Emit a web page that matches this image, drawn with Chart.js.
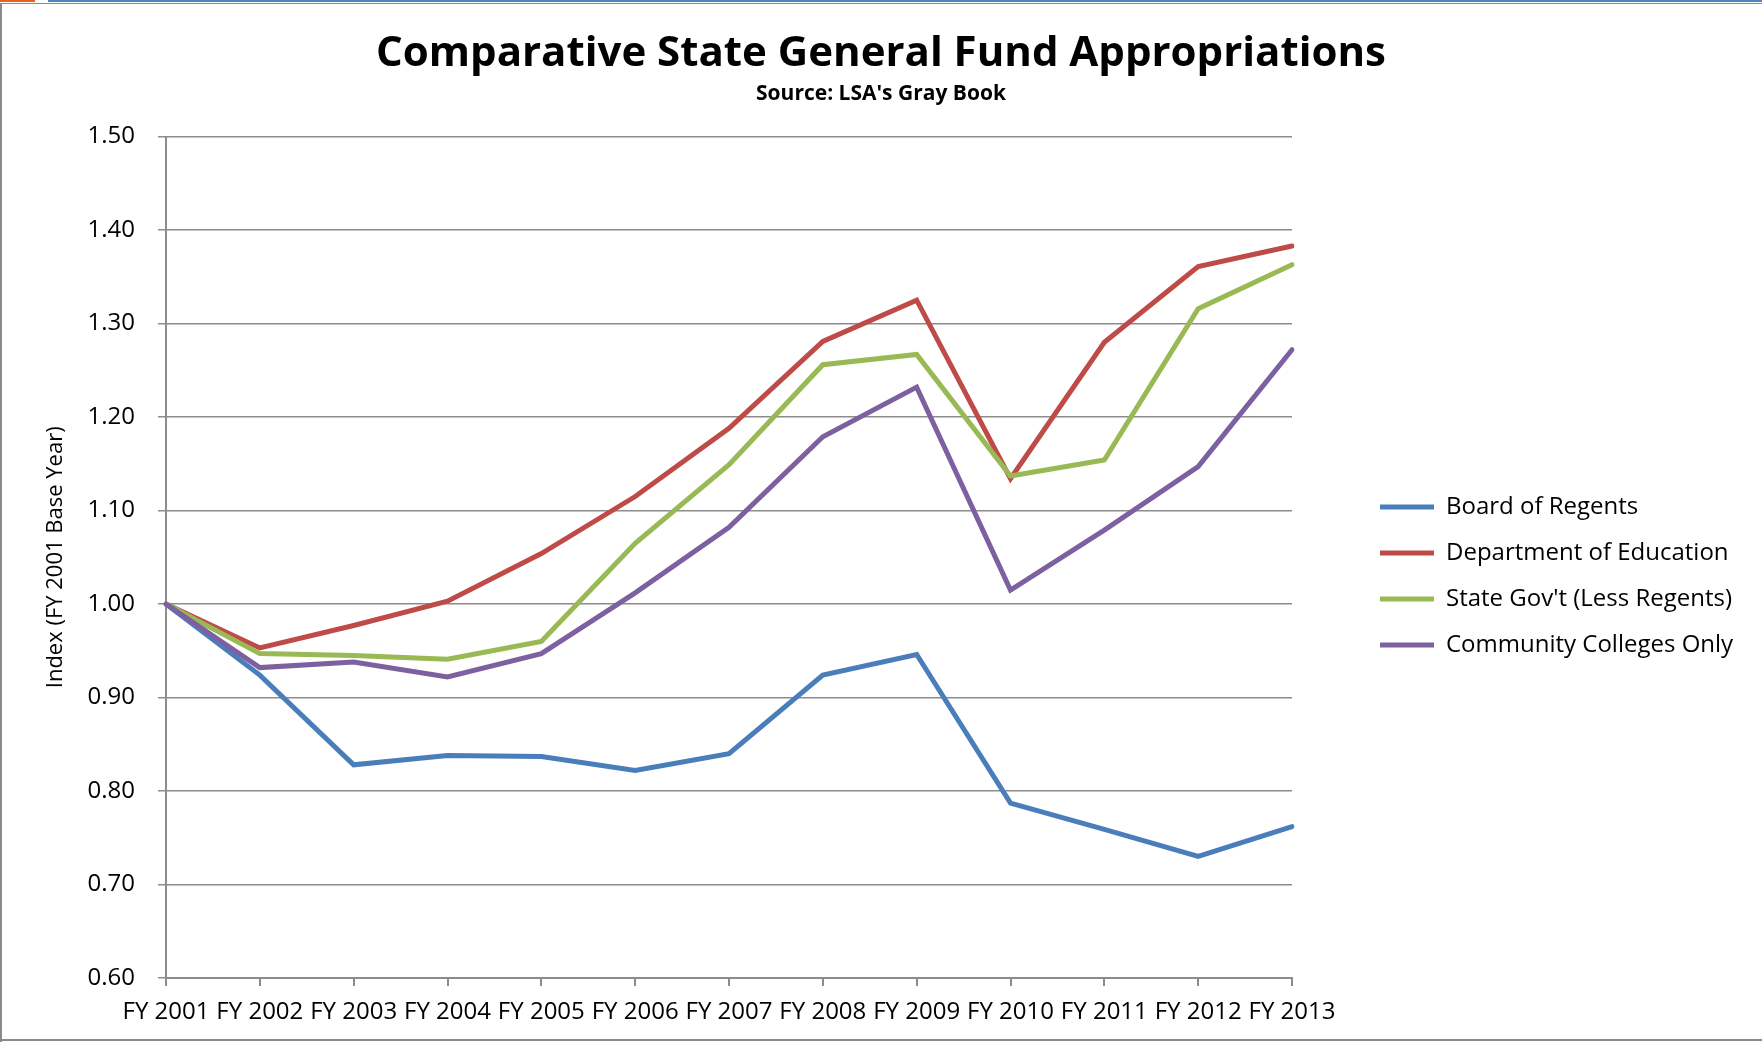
<!DOCTYPE html>
<html>
<head>
<meta charset="utf-8">
<script src="https://cdn.jsdelivr.net/npm/chart.js@4/dist/chart.umd.min.js"></script>
<style>
  body { margin: 0; background: #fff; }
  #wrap { position: relative; width: 1762px; height: 1042px; overflow: hidden; }
  #chart { position: absolute; left: 0; top: 0; }
  .bar { position: absolute; }
</style>
</head>
<body>
<div id="wrap">
  <canvas id="chart" width="1762" height="1042"></canvas>
  <div class="bar" style="left:0;top:0;width:35px;height:2px;background:#e8621e"></div>
  <div class="bar" style="left:48px;top:0;width:1714px;height:2px;background:#4f86c6"></div>
  <div class="bar" style="left:0;top:3px;width:1762px;height:1px;background:#8a8a8a"></div>
  <div class="bar" style="left:0;top:3px;width:2px;height:1039px;background:#8a8a8a"></div>
  <div class="bar" style="left:0;top:1039px;width:1762px;height:2px;background:#8a8a8a"></div>
</div>
<script>
const years = ["FY 2001", "FY 2002", "FY 2003", "FY 2004", "FY 2005", "FY 2006", "FY 2007",
  "FY 2008", "FY 2009", "FY 2010", "FY 2011", "FY 2012", "FY 2013"];
const regents   = [1.00, 0.924, 0.828, 0.838, 0.837, 0.822, 0.840, 0.924, 0.946, 0.787, 0.759, 0.730, 0.762];
const education = [1.00, 0.953, 0.977, 1.003, 1.054, 1.115, 1.188, 1.281, 1.325, 1.134, 1.280, 1.361, 1.383];
const stateGov  = [1.00, 0.947, 0.945, 0.941, 0.960, 1.065, 1.149, 1.256, 1.267, 1.137, 1.154, 1.316, 1.363];
const colleges  = [1.00, 0.932, 0.938, 0.922, 0.947, 1.012, 1.082, 1.179, 1.232, 1.015, 1.079, 1.147, 1.272];
const yMin = 0.6, yMax = 1.5, yStep = 0.1;

const font = "'Open Sans', sans-serif";
const gridGray = "#8c8c8c";

// legend box is given a fixed width so the plot ends where the reference does,
// then its items are nudged right/down after layout
const legendWidth = 470, legendX = 1358, legendDrop = 55;
const legendSpot = {
  id: "legendSpot",
  afterInit(chart) {
    const lg = chart.legend;
    const fit = lg.fit.bind(lg);
    lg.fit = () => { fit(); lg.width = legendWidth; };
  },
  afterLayout(chart) {
    const lg = chart.legend;
    const dx = legendX - lg.left;
    lg.left += dx; lg.right += dx;
    lg.top += legendDrop; lg.bottom += legendDrop;
  }
};

function series(label, data, color, order) {
  return {
    label, data, order,
    borderColor: color,
    backgroundColor: color,
    borderWidth: 5,
    pointRadius: 0,
    tension: 0,
    borderCapStyle: "round"
  };
}

new Chart(document.getElementById("chart").getContext("2d"), {
  type: "line",
  data: {
    labels: years,
    datasets: [
      series("Board of Regents", regents, "#4a7ebb", 4),
      series("Department of Education", education, "#be4b48", 3),
      series("State Gov't (Less Regents)", stateGov, "#98b954", 2),
      series("Community Colleges Only", colleges, "#7d60a0", 1)
    ]
  },
  options: {
    responsive: false,
    animation: false,
    devicePixelRatio: 1,
    layout: { padding: 0 },
    plugins: {
      title: {
        display: true,
        text: "Comparative State General Fund Appropriations",
        color: "#000",
        font: { family: font, size: 42, weight: "bold" },
        padding: { top: 29, bottom: 2 }
      },
      subtitle: {
        display: true,
        text: "Source: LSA's Gray Book",
        color: "#000",
        font: { family: font, size: 21, weight: "bold" },
        padding: { top: 0, bottom: 30 }
      },
      legend: {
        position: "right",
        align: "center",
        labels: {
          color: "#000",
          font: { family: font, size: 24 },
          usePointStyle: true,
          pointStyle: "line",
          pointStyleWidth: 54,
          padding: 22,
          sort: (a, b) => a.datasetIndex - b.datasetIndex
        }
      },
      tooltip: { enabled: false }
    },
    scales: {
      x: {
        offset: false,
        afterFit: (s) => { s.height = 64; },
        grid: { drawOnChartArea: false, drawTicks: true, tickLength: 8, color: gridGray, lineWidth: 2 },
        border: { color: gridGray, width: 2 },
        ticks: {
          color: "#000",
          font: { family: font, size: 24 },
          padding: 12,
          autoSkip: false,
          maxRotation: 0
        }
      },
      y: {
        min: yMin,
        max: yMax,
        afterFit: (s) => { s.width = 166; },
        grid: { color: gridGray, lineWidth: 1.5, tickLength: 8 },
        border: { color: gridGray, width: 2 },
        ticks: {
          stepSize: yStep,
          color: "#000",
          font: { family: font, size: 24 },
          padding: 23,
          callback: (v) => v.toFixed(2)
        },
        title: {
          display: true,
          text: "Index (FY 2001 Base Year)",
          color: "#000",
          font: { family: font, size: 22 },
          padding: { top: 43, bottom: 0 }
        }
      }
    }
  },
  plugins: [legendSpot]
});
</script>
</body>
</html>
